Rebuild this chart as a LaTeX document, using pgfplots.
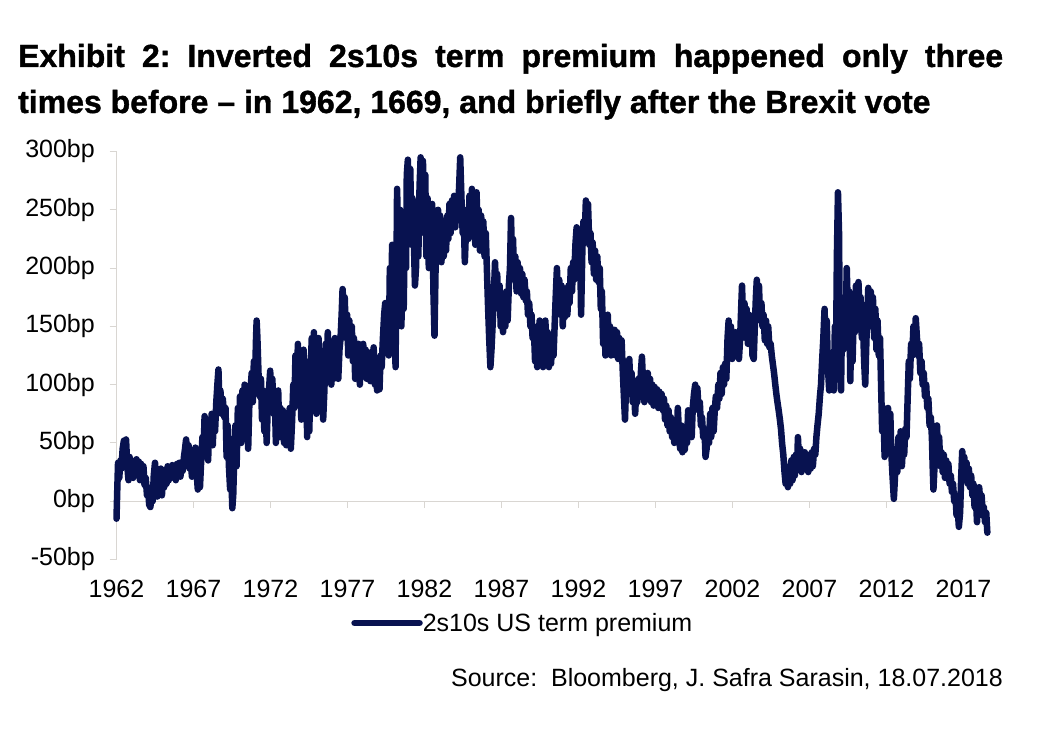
\documentclass[border=0pt]{standalone}
\usepackage{fontspec}
\setmainfont{Liberation Sans}
\newfontfamily\titlefont[FakeBold=1.2]{Liberation Sans Bold}
\usepackage{pgfplots}
\pgfplotsset{compat=1.18}
\definecolor{navy}{RGB}{8,18,80}
\definecolor{axgray}{RGB}{217,214,210}
\frenchspacing
\begin{document}
\begin{tikzpicture}
\useasboundingbox (0,0) rectangle (1046bp,736bp);
\node[anchor=base west, inner sep=0pt] at (18bp,669bp) {\titlefont\fontsize{32bp}{38bp}\selectfont\makebox[985bp][s]{Exhibit 2: Inverted 2s10s term premium happened only three}};
\node[anchor=base west, inner sep=0pt] at (18bp,623bp) {\titlefont\fontsize{32bp}{38bp}\selectfont times before – in 1962, 1669, and briefly after the Brexit vote};
\node[anchor=base east, inner sep=0pt] at (1003bp,49bp) {\fontsize{25bp}{30bp}\selectfont Source:\ \ Bloomberg, J. Safra Sarasin, 18.07.2018};
\begin{axis}[
  at={(116.5bp,176.5bp)}, anchor=south west,
  scale only axis, width=871.6bp, height=408bp,
  xmin=1962, xmax=2018.6, ymin=-50, ymax=300,
  clip=false,
  axis lines*=left,
  x axis line style={draw=none},
  y axis line style={draw=axgray, line width=1bp},
  ytick={-50,0,50,100,150,200,250,300},
  yticklabels={-50bp,0bp,50bp,100bp,150bp,200bp,250bp,300bp},
  xtick={1962,1967,1972,1977,1982,1987,1992,1997,2002,2007,2012,2017},
  xticklabels={1962,1967,1972,1977,1982,1987,1992,1997,2002,2007,2012,2017},
  tick align=outside, major tick length=7bp,
  ytick style={draw=axgray, line width=1bp},
  xtick style={draw=none},
  ticklabel style={font=\fontsize{25bp}{30bp}\selectfont, inner sep=0pt},
  yticklabel style={anchor=east, xshift=-14.5bp},
  xticklabel style={anchor=north, yshift=-13bp},
  legend style={at={(0.465,-0.1556)}, anchor=center, draw=none, fill=none,
    font=\fontsize{25bp}{30bp}\selectfont, inner sep=0pt,
    nodes={inner sep=0pt, xshift=4bp}},
  legend image code/.code={\draw[#1] (0bp,0bp) -- (65bp,0bp);},
]
\draw[axgray, line width=1bp] (axis cs:1962,0) -- (axis cs:2018.6,0);
\pgfplotsinvokeforeach{1967,1972,1977,1982,1987,1992,1997,2002,2007,2012,2017}{
  \draw[axgray, line width=1bp] (axis cs:#1,0) -- ++(0bp,-7bp);
}
\addplot[navy, line width=6.5bp, line join=round, line cap=round] coordinates {
(1962.00,-15) (1962.05,10) (1962.10,33) (1962.18,20) (1962.25,35) (1962.32,28) (1962.40,45) (1962.48,52) (1962.55,40) (1962.62,53) (1962.70,30) (1962.78,18) (1962.85,38) (1962.92,25)
(1963.00,35) (1963.08,20) (1963.15,33) (1963.22,28) (1963.30,36) (1963.38,22) (1963.45,34) (1963.52,18) (1963.60,32) (1963.68,25) (1963.75,30) (1963.82,14) (1963.90,20) (1963.98,5)
(1964.05,12) (1964.12,-3) (1964.20,-5) (1964.28,5) (1964.35,0) (1964.42,22) (1964.50,33) (1964.58,15) (1964.65,4) (1964.72,25) (1964.80,10) (1964.88,28) (1964.95,5)
(1965.02,20) (1965.10,12) (1965.18,27) (1965.25,15) (1965.32,30) (1965.40,18) (1965.48,28) (1965.55,20) (1965.62,31) (1965.70,22) (1965.78,30) (1965.85,18) (1965.92,32)
(1966.00,25) (1966.08,33) (1966.15,21) (1966.22,30) (1966.30,26) (1966.38,38) (1966.45,45) (1966.52,53) (1966.60,42) (1966.68,48) (1966.75,28) (1966.82,35) (1966.90,21) (1966.98,38)
(1967.05,30) (1967.12,46) (1967.20,25) (1967.28,10) (1967.35,22) (1967.42,12) (1967.50,35) (1967.58,55) (1967.65,40) (1967.72,73) (1967.80,50) (1967.88,62) (1967.95,35)
(1968.02,70) (1968.10,55) (1968.18,75) (1968.25,48) (1968.32,72) (1968.40,60) (1968.48,85) (1968.55,100) (1968.62,113) (1968.68,85) (1968.75,95) (1968.82,75) (1968.90,88)
(1969.00,72) (1969.08,80) (1969.15,38) (1969.22,65) (1969.30,30) (1969.38,10) (1969.45,25) (1969.52,-6) (1969.58,5) (1969.65,40) (1969.72,65) (1969.80,30) (1969.88,80) (1969.95,55)
(1970.02,90) (1970.10,50) (1970.18,95) (1970.25,75) (1970.32,100) (1970.40,60) (1970.48,85) (1970.55,45) (1970.62,80) (1970.70,95) (1970.78,110) (1970.85,85) (1970.92,120)
(1971.00,100) (1971.05,135) (1971.10,155) (1971.15,140) (1971.22,110) (1971.30,90) (1971.38,105) (1971.45,70) (1971.52,95) (1971.60,60) (1971.68,88) (1971.75,50) (1971.82,80) (1971.90,95) (1971.98,112)
(1972.05,85) (1972.12,105) (1972.20,75) (1972.28,90) (1972.35,50) (1972.42,85) (1972.50,95) (1972.58,55) (1972.65,80) (1972.72,60) (1972.80,78) (1972.88,50) (1972.95,70)
(1973.02,48) (1973.10,72) (1973.18,55) (1973.25,80) (1973.32,45) (1973.40,68) (1973.48,100) (1973.55,80) (1973.62,125) (1973.70,95) (1973.78,135) (1973.85,90) (1973.92,120)
(1974.00,70) (1974.08,110) (1974.15,130) (1974.22,95) (1974.30,120) (1974.38,55) (1974.45,85) (1974.52,60) (1974.60,110) (1974.68,140) (1974.75,90) (1974.82,145) (1974.90,100) (1974.98,75)
(1975.05,120) (1975.12,140) (1975.20,90) (1975.28,125) (1975.35,100) (1975.42,70) (1975.50,95) (1975.58,135) (1975.65,110) (1975.72,145) (1975.80,115) (1975.88,125) (1975.95,100)
(1976.02,130) (1976.10,105) (1976.18,140) (1976.25,120) (1976.32,135) (1976.40,105) (1976.48,130) (1976.55,140) (1976.62,160) (1976.68,182) (1976.75,165) (1976.82,175) (1976.90,140) (1976.98,160)
(1977.05,125) (1977.12,155) (1977.20,130) (1977.28,150) (1977.35,120) (1977.42,140) (1977.50,105) (1977.58,130) (1977.65,115) (1977.72,135) (1977.80,100) (1977.88,125) (1977.95,110)
(1978.02,135) (1978.10,110) (1978.18,130) (1978.25,105) (1978.32,120) (1978.40,125) (1978.48,103) (1978.55,128) (1978.62,112) (1978.70,132) (1978.78,100) (1978.85,120) (1978.92,95)
(1979.00,110) (1979.08,96) (1979.15,125) (1979.22,115) (1979.30,140) (1979.38,160) (1979.45,170) (1979.52,135) (1979.60,150) (1979.68,125) (1979.75,200) (1979.82,165) (1979.90,220) (1979.98,150)
(1980.05,190) (1980.12,115) (1980.18,200) (1980.22,268) (1980.28,230) (1980.35,180) (1980.42,250) (1980.50,150) (1980.58,210) (1980.65,165) (1980.72,230) (1980.80,200) (1980.85,280) (1980.92,293)
(1981.00,250) (1981.08,285) (1981.15,220) (1981.22,260) (1981.30,230) (1981.38,185) (1981.45,200) (1981.52,240) (1981.60,210) (1981.68,270) (1981.75,295) (1981.82,260) (1981.90,292) (1981.98,230)
(1982.05,280) (1982.12,210) (1982.20,260) (1982.28,200) (1982.35,240) (1982.42,210) (1982.50,255) (1982.58,180) (1982.65,142) (1982.72,200) (1982.80,230) (1982.88,250) (1982.95,215)
(1983.02,245) (1983.10,205) (1983.18,235) (1983.25,210) (1983.32,240) (1983.40,215) (1983.48,245) (1983.55,225) (1983.62,255) (1983.70,230) (1983.78,258) (1983.85,240) (1983.92,262)
(1984.00,235) (1984.08,255) (1984.15,245) (1984.25,270) (1984.32,295) (1984.40,260) (1984.48,230) (1984.55,245) (1984.62,205) (1984.70,235) (1984.78,250) (1984.85,225) (1984.92,262)
(1985.00,240) (1985.08,268) (1985.15,230) (1985.22,258) (1985.30,220) (1985.38,265) (1985.45,235) (1985.52,250) (1985.60,215) (1985.68,245) (1985.75,225) (1985.82,240) (1985.90,210) (1985.98,230)
(1986.05,200) (1986.12,170) (1986.20,140) (1986.28,115) (1986.35,130) (1986.42,150) (1986.50,175) (1986.58,205) (1986.65,180) (1986.72,195) (1986.80,165) (1986.88,185) (1986.95,150)
(1987.02,175) (1987.10,145) (1987.18,170) (1987.25,150) (1987.32,180) (1987.40,155) (1987.48,185) (1987.55,200) (1987.62,243) (1987.68,210) (1987.75,225) (1987.82,190) (1987.90,210) (1987.98,180)
(1988.05,205) (1988.12,185) (1988.20,200) (1988.28,178) (1988.35,195) (1988.42,175) (1988.50,190) (1988.58,172) (1988.65,180) (1988.72,160) (1988.80,170) (1988.88,150) (1988.95,160)
(1989.02,140) (1989.10,150) (1989.18,120) (1989.25,145) (1989.32,115) (1989.40,140) (1989.48,155) (1989.55,125) (1989.62,145) (1989.70,115) (1989.78,140) (1989.85,155) (1989.92,130)
(1990.00,145) (1990.08,115) (1990.15,135) (1990.22,118) (1990.30,140) (1990.38,125) (1990.45,150) (1990.52,175) (1990.60,200) (1990.68,170) (1990.75,190) (1990.82,160) (1990.90,185) (1990.98,150)
(1991.05,175) (1991.12,158) (1991.20,180) (1991.28,160) (1991.35,185) (1991.42,170) (1991.50,200) (1991.58,180) (1991.65,205) (1991.72,190) (1991.80,220) (1991.88,235) (1991.95,215)
(1992.02,195) (1992.10,225) (1992.17,160) (1992.25,215) (1992.32,240) (1992.40,225) (1992.48,258) (1992.55,235) (1992.62,255) (1992.70,220) (1992.78,230) (1992.85,205) (1992.92,222)
(1993.00,195) (1993.08,215) (1993.15,190) (1993.22,210) (1993.30,188) (1993.38,200) (1993.45,165) (1993.52,180) (1993.60,135) (1993.68,160) (1993.75,125) (1993.82,145) (1993.90,160) (1993.98,130)
(1994.05,150) (1994.12,125) (1994.20,145) (1994.28,130) (1994.35,147) (1994.42,125) (1994.50,145) (1994.58,122) (1994.65,140) (1994.72,125) (1994.80,138) (1994.88,110) (1994.95,90)
(1995.02,70) (1995.08,95) (1995.15,120) (1995.22,100) (1995.30,122) (1995.38,95) (1995.45,110) (1995.52,85) (1995.60,100) (1995.68,75) (1995.75,95) (1995.82,85) (1995.90,105) (1995.98,90)
(1996.05,110) (1996.12,124) (1996.20,100) (1996.28,85) (1996.35,105) (1996.42,90) (1996.50,110) (1996.58,88) (1996.65,105) (1996.72,85) (1996.80,100) (1996.88,82) (1996.95,98)
(1997.02,85) (1997.10,96) (1997.18,80) (1997.25,94) (1997.32,82) (1997.40,92) (1997.48,78) (1997.55,88) (1997.62,70) (1997.70,82) (1997.78,65) (1997.85,78) (1997.92,60)
(1998.00,72) (1998.08,55) (1998.15,65) (1998.22,50) (1998.30,60) (1998.38,52) (1998.45,80) (1998.52,60) (1998.60,45) (1998.68,65) (1998.75,42) (1998.82,55) (1998.90,44) (1998.98,58)
(1999.05,50) (1999.12,78) (1999.20,58) (1999.28,70) (1999.35,55) (1999.42,80) (1999.50,92) (1999.58,100) (1999.65,85) (1999.72,97) (1999.80,78) (1999.88,85) (1999.95,65)
(2000.02,72) (2000.10,55) (2000.18,62) (2000.25,38) (2000.32,45) (2000.40,60) (2000.48,50) (2000.55,75) (2000.62,55) (2000.70,80) (2000.78,60) (2000.85,78) (2000.92,90)
(2001.00,80) (2001.08,100) (2001.15,88) (2001.22,110) (2001.30,92) (2001.38,115) (2001.45,100) (2001.52,118) (2001.60,105) (2001.68,140) (2001.75,155) (2001.82,130) (2001.90,150) (2001.98,122)
(2002.05,140) (2002.12,125) (2002.20,145) (2002.28,128) (2002.35,140) (2002.42,122) (2002.50,140) (2002.55,160) (2002.62,185) (2002.70,150) (2002.78,170) (2002.85,140) (2002.92,165)
(2003.00,135) (2003.08,160) (2003.15,140) (2003.22,155) (2003.30,125) (2003.38,122) (2003.45,150) (2003.52,175) (2003.58,190) (2003.65,170) (2003.72,185) (2003.80,155) (2003.88,170) (2003.95,150)
(2004.02,160) (2004.10,138) (2004.18,155) (2004.25,135) (2004.32,150) (2004.40,132) (2004.48,135) (2004.55,125) (2004.62,118) (2004.70,110) (2004.78,100) (2004.85,92) (2004.92,85)
(2005.00,78) (2005.08,70) (2005.15,62) (2005.22,50) (2005.30,40) (2005.38,25) (2005.45,15) (2005.52,25) (2005.60,12) (2005.68,30) (2005.75,15) (2005.82,35) (2005.90,18) (2005.98,38)
(2006.05,22) (2006.12,40) (2006.20,30) (2006.25,55) (2006.32,35) (2006.40,45) (2006.48,25) (2006.55,40) (2006.62,28) (2006.70,42) (2006.78,30) (2006.85,38) (2006.92,25)
(2007.00,40) (2007.08,28) (2007.15,42) (2007.22,30) (2007.30,45) (2007.38,40) (2007.45,55) (2007.52,65) (2007.60,75) (2007.68,90) (2007.75,100) (2007.82,120) (2007.90,140) (2007.98,165)
(2008.05,130) (2008.12,155) (2008.20,115) (2008.28,95) (2008.35,120) (2008.42,100) (2008.50,125) (2008.58,95) (2008.65,150) (2008.72,120) (2008.78,210) (2008.85,265) (2008.92,230) (2008.98,120)
(2009.05,95) (2009.12,165) (2009.20,130) (2009.28,175) (2009.35,150) (2009.42,200) (2009.50,160) (2009.58,180) (2009.65,103) (2009.72,150) (2009.80,120) (2009.88,165) (2009.95,145)
(2010.02,185) (2010.10,160) (2010.18,188) (2010.25,165) (2010.32,175) (2010.40,140) (2010.48,150) (2010.55,120) (2010.62,100) (2010.68,130) (2010.75,160) (2010.82,183) (2010.90,165) (2010.98,180)
(2011.05,150) (2011.12,175) (2011.20,140) (2011.28,165) (2011.35,130) (2011.42,155) (2011.50,125) (2011.58,140) (2011.65,100) (2011.72,60) (2011.80,80) (2011.88,38) (2011.95,55)
(2012.02,45) (2012.10,80) (2012.18,60) (2012.25,75) (2012.32,40) (2012.40,20) (2012.48,2) (2012.55,20) (2012.62,45) (2012.70,25) (2012.78,55) (2012.85,35) (2012.92,60)
(2013.00,30) (2013.08,50) (2013.15,40) (2013.22,62) (2013.30,55) (2013.38,90) (2013.45,120) (2013.52,105) (2013.60,135) (2013.68,125) (2013.75,150) (2013.82,130) (2013.90,157) (2013.98,140)
(2014.05,125) (2014.12,135) (2014.20,110) (2014.28,120) (2014.35,100) (2014.42,110) (2014.50,90) (2014.58,100) (2014.65,80) (2014.72,88) (2014.80,65) (2014.88,72) (2014.95,55)
(2015.00,30) (2015.05,10) (2015.12,30) (2015.20,50) (2015.28,65) (2015.35,40) (2015.42,55) (2015.50,30) (2015.58,42) (2015.65,25) (2015.72,40) (2015.80,20) (2015.88,35) (2015.95,22)
(2016.02,32) (2016.10,15) (2016.18,22) (2016.25,8) (2016.32,15) (2016.40,0) (2016.48,5) (2016.55,-12) (2016.62,-5) (2016.70,-22) (2016.78,-10) (2016.85,20) (2016.92,43) (2016.98,30)
(2017.05,38) (2017.12,20) (2017.20,33) (2017.28,15) (2017.35,28) (2017.42,12) (2017.50,22) (2017.58,5) (2017.65,15) (2017.72,-5) (2017.80,5) (2017.88,-18) (2017.95,0)
(2018.02,12) (2018.10,-2) (2018.18,5) (2018.25,-12) (2018.32,-5) (2018.40,-18) (2018.48,-10) (2018.55,-27)
};
\addlegendentry{2s10s US term premium}
\end{axis}
\end{tikzpicture}
\end{document}
